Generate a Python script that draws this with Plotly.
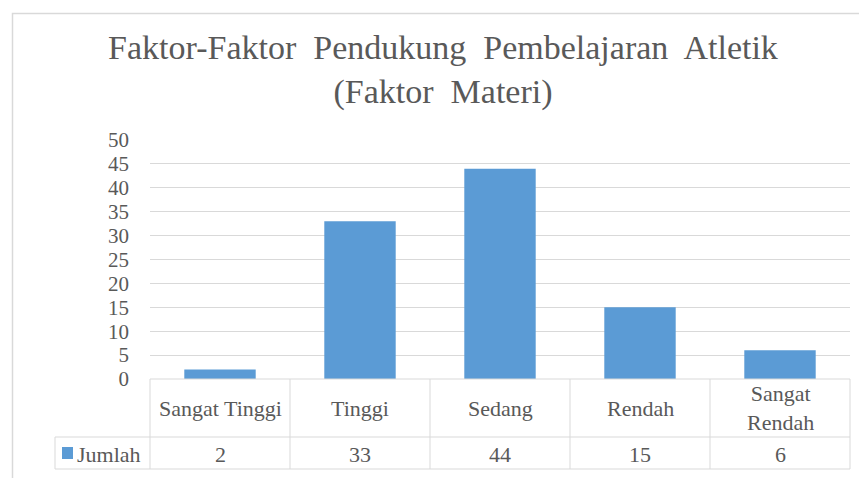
import plotly.graph_objects as go

categories = ["Sangat Tinggi", "Tinggi", "Sedang", "Rendah", "Sangat Rendah"]
category_labels = ["Sangat Tinggi", "Tinggi", "Sedang", "Rendah", "Sangat<br>Rendah"]
series_name = "Jumlah"
values = [2, 33, 44, 15, 6]
y_ticks = list(range(0, 51, 5))
title_text = ("Faktor-Faktor&nbsp; Pendukung&nbsp; Pembelajaran&nbsp; Atletik"
              "<br>(Faktor&nbsp; Materi)")

OFF = 8  # page body margin
W, H = 867 - OFF, 478 - OFF
PL, PR, PT, PB = 150, 850, 140, 379
L, T = PL - OFF, PT - OFF
R, B = W - (PR - OFF), H - (PB - OFF)
PW, PH = PR - PL, PB - PT
BAR = "#5b9bd5"
GRID = "#d9d9d9"
TXT = "#595959"
FONT = "Liberation Serif"


def py(p):
    return (PB - p) / PH


def pxd(p):
    return (p - PL) / PW


fig = go.Figure()
fig.add_trace(go.Bar(x=categories, y=values, name=series_name,
                     marker=dict(color=BAR, line=dict(width=0)),
                     showlegend=False))

n = len(categories)
shapes = []
line = dict(color=GRID, width=1)
row1_bot = py(437)
row2_bot = py(469)
left_col = pxd(55)
shapes.append(dict(type="line", xref="x domain", yref="paper", x0=0, x1=1, y0=0, y1=0, line=line))
for yy in (row1_bot, row2_bot):
    shapes.append(dict(type="line", xref="x domain", yref="paper", x0=left_col, x1=1, y0=yy, y1=yy, line=line))
for k in range(n + 1):
    shapes.append(dict(type="line", xref="x domain", yref="paper", x0=k / n, x1=k / n, y0=0, y1=row2_bot, line=line))
shapes.append(dict(type="line", xref="x domain", yref="paper", x0=left_col, x1=left_col, y0=row1_bot, y1=row2_bot, line=line))
shapes.append(dict(type="rect", xref="x domain", yref="paper", x0=pxd(12.5), x1=pxd(900), y0=py(13.5), y1=py(520),
                   line=dict(color=GRID, width=1.5), fillcolor="rgba(0,0,0,0)", layer="below"))
shapes.append(dict(type="rect", xref="x domain", yref="paper", x0=pxd(62), x1=pxd(73), y0=py(447), y1=py(459),
                   line=dict(width=0), fillcolor=BAR))

annotations = []
for c, lab, v in zip(categories, category_labels, values):
    annotations.append(dict(x=c, xref="x", y=py(408), yref="paper", text=lab, showarrow=False,
                            font=dict(size=22), yanchor="middle"))
    annotations.append(dict(x=c, xref="x", y=py(454), yref="paper", text=str(v), showarrow=False,
                            font=dict(size=22), yanchor="middle"))
annotations.append(dict(x=pxd(75), xref="x domain", y=py(454), yref="paper", text=series_name, showarrow=False,
                        xanchor="left", yanchor="middle", font=dict(size=22)))

fig.update_layout(
    width=W, height=H,
    margin=dict(l=L, r=R, t=T, b=B),
    font=dict(family=FONT, color=TXT),
    paper_bgcolor="white", plot_bgcolor="white",
    title=dict(text=title_text, x=(443 - OFF) / W, xref="container", xanchor="center",
               y=1 - (59 - OFF) / H, yref="container", yanchor="middle",
               font=dict(size=34)),
    bargap=0.49,
    xaxis=dict(showticklabels=False, showgrid=False, zeroline=False, showline=False,
               range=[-0.5, n - 0.5]),
    yaxis=dict(range=[0, 50], tickvals=y_ticks, showgrid=True, gridcolor=GRID, gridwidth=1,
               zeroline=False, showline=False, ticks="", ticklabelstandoff=20,
               tickfont=dict(size=21)),
    shapes=shapes, annotations=annotations,
)

fig.write_html("out.html")
